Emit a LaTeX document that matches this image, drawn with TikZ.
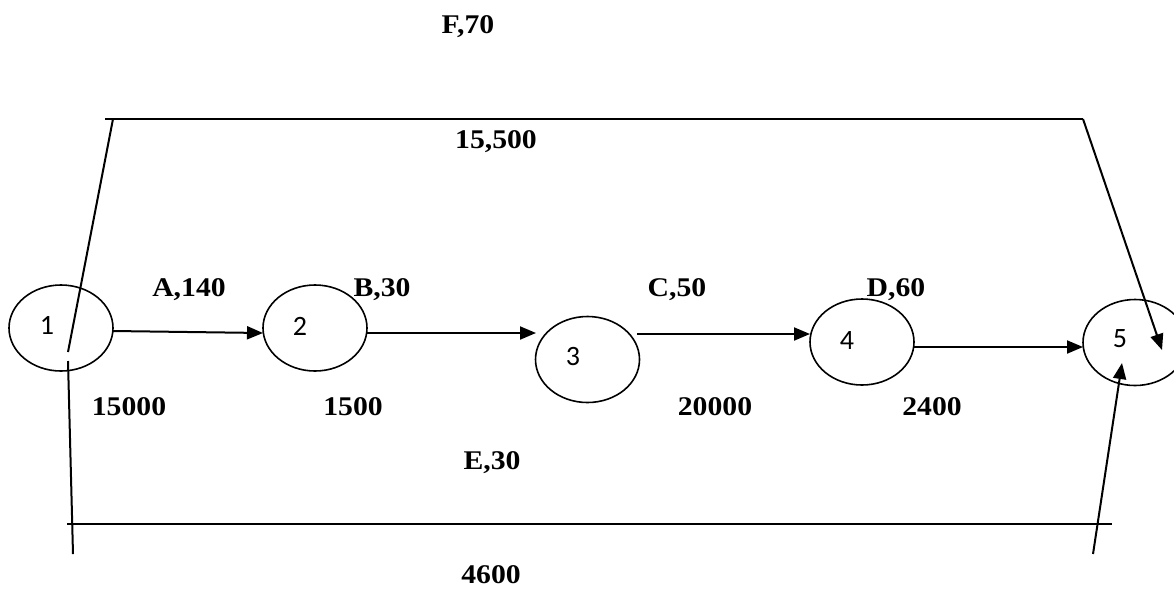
\documentclass[tikz,border=0pt]{standalone}
\usepackage{fontspec}
\usetikzlibrary{shapes.geometric,arrows.meta}
\newfontfamily\labfont[FakeStretch=1.1]{Liberation Serif}
\newfontfamily\numfont{Carlito}
\begin{document}
\begin{tikzpicture}[x=1pt,y=-1pt,
  event/.style={draw,ellipse,line width=1.6pt,minimum width=104pt,minimum height=86pt,inner sep=0pt},
  num/.style={font=\numfont\fontsize{28}{28}\selectfont,inner sep=0pt},
  lab/.style={font=\labfont\bfseries\fontsize{27}{27}\selectfont,inner sep=0pt},
  edge/.style={line width=2pt},
  arrow/.style={edge,-{Triangle[length=16pt,width=13pt]}}]
\useasboundingbox (0,0) rectangle (1174,590);

% events
\node[event] (n1) at (61,328) {};
\node[event] (n2) at (315,328) {};
\node[event] (n3) at (587.5,359.5) {};
\node[event] (n4) at (862,342) {};
\node[event] (n5) at (1135,342.5) {};
\node[num] (t1) at (47,325) {1};
\node[num] (t2) at (300,326) {2};
\node[num] (t3) at (573,357) {3};
\node[num] (t4) at (847,341) {4};
\node[num] (t5) at (1120,339) {5};

% activity end points
\coordinate (a0) at (113,331);  \coordinate (a1) at (263,333);
\coordinate (b0) at (367,333);  \coordinate (b1) at (536,333);
\coordinate (c0) at (637,334);  \coordinate (c1) at (810,334);
\coordinate (d0) at (914,347);  \coordinate (d1) at (1083,347);

\draw[arrow] (a0) -- (a1);
\draw[arrow] (b0) -- (b1);
\draw[arrow] (c0) -- (c1);
\draw[arrow] (d0) -- (d1);

% activity F over the top
\coordinate (f0) at (68,352);
\coordinate (f1) at (113,119);
\coordinate (f2) at (105,119);
\coordinate (f3) at (1083,119);
\coordinate (f4) at (1162,350);
\draw[edge] (f0) -- (f1);
\draw[edge] (f2) -- (f3);
\draw[arrow] (f3) -- (f4);

% activity E along the bottom
\coordinate (e0) at (68,361);
\coordinate (e1) at (73,554);
\coordinate (e2) at (67,524);
\coordinate (e3) at (1112,524);
\coordinate (e4) at (1093,554);
\coordinate (e5) at (1122,363);
\draw[edge] (e0) -- (e1);
\draw[edge] (e2) -- (e3);
\draw[arrow] (e4) -- (e5);

% labels
\node[lab] (lF) at (468,27) {F,70};
\node[lab] (lF2) at (496,142) {15,500};
\node[lab] (lA) at (189,290) {A,140};
\node[lab] (lB) at (382,290) {B,30};
\node[lab] (lC) at (677,290) {C,50};
\node[lab] (lD) at (896,290) {D,60};
\node[lab] (cA) at (129,407) {15000};
\node[lab] (cB) at (353,407) {1500};
\node[lab] (cC) at (715,407) {20000};
\node[lab] (cD) at (932,407) {2400};
\node[lab] (lE) at (492,463) {E,30};
\node[lab] (cE) at (491,575) {4600};
\end{tikzpicture}
\end{document}
